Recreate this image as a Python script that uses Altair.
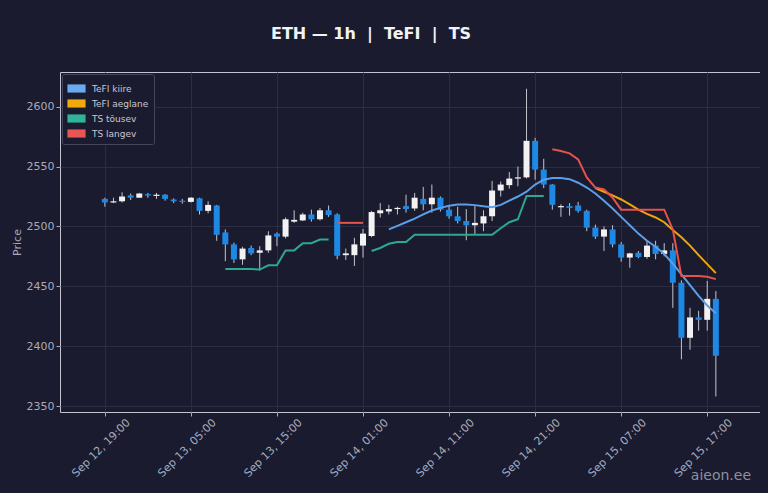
import pandas as pd
import altair as alt

# ETH 1h küünlad, Sep 12 19:00 UTC alates
opens = [2523, 2520, 2521, 2526, 2524, 2527, 2525.5, 2526.5, 2522.5, 2521.5,
         2520.5, 2523.5, 2513, 2517.5, 2495, 2485, 2472.5, 2482, 2478, 2480,
         2494, 2491.5, 2504, 2505, 2510, 2506, 2513.5, 2510, 2476, 2476,
         2484, 2492, 2511, 2512.5, 2514.5, 2517, 2515, 2523, 2518.5, 2524,
         2514, 2508.5, 2504.5, 2501, 2502.5, 2508.5, 2530, 2534.5, 2540, 2541,
         2571.5, 2547.5, 2535, 2516, 2517, 2517.5, 2513, 2499, 2491.5, 2497.5,
         2485, 2474, 2478, 2474.5, 2484, 2477, 2480, 2453, 2407, 2424,
         2422, 2439.5]
highs = [2524, 2524, 2528.5, 2527.5, 2528, 2528, 2528, 2527, 2523.5, 2523,
         2524.5, 2524, 2521, 2518, 2497.5, 2486.5, 2483, 2484, 2483.5, 2496,
         2495, 2507.5, 2513.5, 2511.5, 2514, 2515.5, 2517.5, 2511, 2481.5, 2490.5,
         2498, 2513, 2519.5, 2518, 2516.5, 2526.5, 2528, 2533, 2535, 2525,
         2517, 2516.5, 2514.5, 2517, 2513.5, 2538, 2537.5, 2545.5, 2550, 2615,
         2574, 2556.5, 2535.5, 2518.5, 2519.5, 2520.5, 2514, 2501.5, 2500, 2501,
         2487, 2478, 2479.5, 2488, 2488, 2486, 2486, 2455, 2432, 2429.5,
         2454.5, 2446]
lows = [2516.5, 2519.5, 2520, 2522, 2524, 2524, 2523, 2521.5, 2519.5, 2519,
        2520, 2510, 2511, 2488, 2471, 2469.5, 2468, 2476, 2463, 2478,
        2483.5, 2490, 2503, 2504.5, 2504, 2505, 2508, 2472.5, 2472, 2467,
        2474, 2491, 2507.5, 2510, 2510, 2511.5, 2513, 2513.5, 2511.5, 2512.5,
        2506.5, 2502.5, 2488.5, 2493.5, 2496, 2504.5, 2525, 2531.5, 2533.5, 2540,
        2539, 2532, 2514, 2508, 2509, 2511.5, 2496, 2489.5, 2479.5, 2482.5,
        2470.5, 2465.5, 2473.5, 2473, 2472.5, 2475, 2432, 2389, 2397, 2413,
        2413, 2358]
closes = [2520, 2521, 2525, 2524, 2527.5, 2525.8, 2526.5, 2523, 2521, 2520.5,
          2524, 2513, 2518, 2493, 2485, 2472.5, 2481.5, 2477.5, 2480, 2492.5,
          2491.5, 2506, 2505.5, 2510, 2506, 2513.5, 2509.5, 2475.5, 2477.5, 2485,
          2494, 2512, 2513.5, 2514.5, 2515.5, 2514.5, 2524, 2518.5, 2524, 2514,
          2508.5, 2504.5, 2501, 2503, 2508.5, 2530, 2535, 2540, 2541, 2571.5,
          2547.5, 2535, 2518, 2517, 2515.5, 2513, 2499, 2491.5, 2497.5, 2485,
          2474, 2477.5, 2474.5, 2484, 2477, 2480, 2453, 2407, 2424, 2422,
          2439.5, 2392]

# TeFI kiire (küünlast 33), TeFI aeglane (küünlast 57)
kiire_start = 33
tefi_kiire = [2497.5, 2500.5, 2503.5, 2506.5, 2510, 2513.3, 2515.5, 2517.2, 2518.3, 2518.3,
              2517.8, 2516.8, 2516, 2518, 2521.5, 2525, 2529, 2535, 2539, 2540.5,
              2540.5, 2539.5, 2536.5, 2532.5, 2527.5, 2521.5, 2515, 2508, 2501, 2494,
              2488, 2483, 2477, 2469, 2460, 2451, 2442, 2434, 2427.5]
aeglane_start = 57
tefi_aeglane = [2532, 2529, 2526, 2522.5, 2518.5, 2514, 2510.5, 2507.5, 2503.5, 2497,
                2491, 2484, 2476, 2468.5, 2461]

# TS segmendid: (algusküünal, väärtused)
ts_tousev = [
    (14, [2464.5, 2464.5, 2464.5, 2464.5, 2464, 2467.5, 2467.5, 2480, 2480, 2486,
          2486, 2489, 2489]),
    (31, [2479.5, 2482, 2485.5, 2487, 2487, 2493, 2493, 2493, 2493, 2493,
          2493, 2493, 2493, 2493, 2493, 2498.5, 2503.5, 2506, 2525.5, 2525.5,
          2525.5]),
]
ts_langev = [
    (27, [2503, 2503, 2503, 2503]),
    (52, [2564.5, 2563, 2561, 2556, 2541, 2532.5, 2531, 2524, 2514, 2514,
          2514, 2514, 2514, 2514, 2497.5, 2458.5, 2458.5, 2458.5, 2458, 2456]),
]

series_names = ["TeFI kiire", "TeFI aeglane", "TS tõusev", "TS langev"]
series_colors = ["#5b9fea", "#f0a30a", "#2ea98f", "#e5534b"]
legend_colors = ["#6aaaf0", "#f0a80c", "#2fb39a", "#e85555"]

x_ticks = ["2025-09-12 19:00", "2025-09-13 05:00", "2025-09-13 15:00", "2025-09-14 01:00",
           "2025-09-14 11:00", "2025-09-14 21:00", "2025-09-15 07:00", "2025-09-15 17:00"]

HOUR = 3600 * 1000
base = int(pd.Timestamp("2025-09-12 19:00", tz="UTC").value // 10**6)


def ms(s):
    return int(pd.Timestamp(s, tz="UTC").value // 10**6)


candles = pd.DataFrame({
    "t": [base + i * HOUR for i in range(len(opens))],
    "open": opens, "high": highs, "low": lows, "close": closes,
})
candles["dir"] = ["up" if c >= o else "down" for o, c in zip(opens, closes)]

rows = []
for i, v in enumerate(tefi_kiire):
    rows.append({"t": base + (kiire_start + i) * HOUR, "v": v, "series": "TeFI kiire", "seg": "k"})
for i, v in enumerate(tefi_aeglane):
    rows.append({"t": base + (aeglane_start + i) * HOUR, "v": v, "series": "TeFI aeglane", "seg": "a"})
for n, (start, vals) in enumerate(ts_tousev):
    for i, v in enumerate(vals):
        rows.append({"t": base + (start + i) * HOUR, "v": v, "series": "TS tõusev", "seg": f"u{n}"})
for n, (start, vals) in enumerate(ts_langev):
    for i, v in enumerate(vals):
        rows.append({"t": base + (start + i) * HOUR, "v": v, "series": "TS langev", "seg": f"d{n}"})
lines = pd.DataFrame(rows)

BG = "#1a1b2e"
TXT = "#a9aabb"
SP = "\u00a0\u00a0"  # svg ei ahenda nbsp-tühikuid

x_dom = [base - int(4.63 * HOUR), base + int(75.55 * HOUR)]
x_enc = alt.X("t:T", title=None,
              scale=alt.Scale(type="utc", domain=x_dom),
              axis=alt.Axis(values=[ms(s) for s in x_ticks], format="%b %d, %H:%M",
                            labelAngle=-45, labelAlign="center", labelBaseline="middle",
                            labelPadding=32, labelOffset=-4))
y_scale = alt.Scale(domain=[2345, 2629], nice=False, zero=False)
y_axis = alt.Axis(values=[2350, 2400, 2450, 2500, 2550, 2600], title="Price", format="d")

wick = alt.Chart(candles).mark_rule(color="#c4c4cc", strokeWidth=1).encode(
    x=x_enc,
    y=alt.Y("low:Q", scale=y_scale, axis=y_axis),
    y2="high:Q",
)

body = alt.Chart(candles).mark_bar(size=6).encode(
    x=alt.X("t:T"),
    y=alt.Y("open:Q"),
    y2="close:Q",
    fill=alt.Fill("dir:N", scale=alt.Scale(domain=["up", "down"], range=["#f2f2f2", "#1e88e5"]),
                  legend=None),
)

line = alt.Chart(lines).mark_line().encode(
    x=alt.X("t:T"),
    y=alt.Y("v:Q"),
    detail="seg:N",
    color=alt.Color("series:N", scale=alt.Scale(domain=series_names, range=series_colors),
                    legend=None),
)

# legendi jaoks tühi kiht, et saada täidetud ristkülikud
legend_layer = alt.Chart(lines).mark_point(filled=True).encode(
    x=alt.X("t:T"),
    y=alt.Y("v:Q"),
    fill=alt.Fill("series:N", scale=alt.Scale(domain=series_names, range=legend_colors),
                  legend=alt.Legend(title=None, orient="top-left", offset=2,
                                    fillColor=BG, strokeColor="#45465c", padding=5,
                                    cornerRadius=2, labelColor="#c8c8d2", labelFontSize=9,
                                    symbolType="M-1,-0.45H1V0.45H-1Z", symbolSize=330,
                                    symbolStrokeWidth=0, symbolOpacity=1,
                                    rowPadding=0, labelOffset=6)),
).transform_filter("false")

mark = alt.Chart(pd.DataFrame({"txt": ["aieon.ee"]})).mark_text(
    align="right", baseline="middle", fontSize=14, color="#8e8fa0", font="DejaVu Sans"
).encode(x=alt.value(691), y=alt.value(404), text="txt:N")

chart = (
    alt.layer(wick, body, line, legend_layer, mark)
    .resolve_scale(fill="independent")
    .properties(
        width=700, height=340, autosize="none",
        padding={"left": 52, "top": 64, "right": 0, "bottom": 78},
        title=alt.TitleParams(f"ETH — 1h{SP}|{SP}TeFI{SP}|{SP}TS", fontSize=16, fontWeight="bold",
                              color="#f2f2f6", font="DejaVu Sans", anchor="middle",
                              offset=30, dx=-39),
    )
    .configure(background=BG, font="DejaVu Sans")
    .configure_view(fill=BG, stroke="#c4c4d0", strokeWidth=1)
    .configure_axis(labelColor=TXT, titleColor=TXT, labelFontSize=11, titleFontSize=11,
                    titleFontWeight="normal", tickColor=TXT, tickSize=4, domain=False,
                    gridColor="#2c2d44", gridWidth=1)
)

chart.save("out.html", embed_options={"renderer": "svg", "actions": False})

# lehe taust samuti tumedaks
with open("out.html", encoding="utf-8") as f:
    html = f.read()
html = html.replace("<head>", f"<head>\n<style>html, body {{ background: {BG}; }}</style>", 1)
with open("out.html", "w", encoding="utf-8") as f:
    f.write(html)
